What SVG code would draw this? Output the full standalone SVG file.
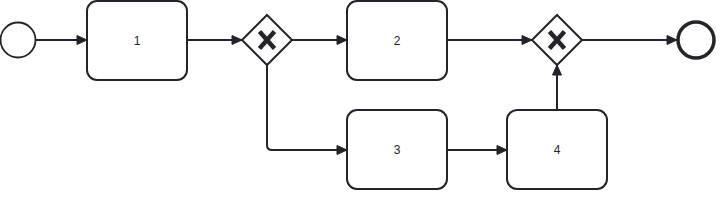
<svg xmlns="http://www.w3.org/2000/svg" width="726" height="200" viewBox="0 0 726 200">
<style>
.task{fill:#fff;stroke:#22242a;stroke-width:2}
.gw{fill:#fff;stroke:#22242a;stroke-width:2}
.x{stroke:#22242a;stroke-width:4.5;fill:none}
.lbl{font-family:"Liberation Sans",Arial,sans-serif;font-size:12px;fill:#22242a;text-anchor:middle;dominant-baseline:central}
.flow{fill:none;stroke:#22242a;stroke-width:2;stroke-linejoin:round}
</style>
<defs>
<marker id="arr" markerWidth="11" markerHeight="11" refX="11" refY="5.5" orient="auto" markerUnits="userSpaceOnUse">
<path d="M1,1 L11,5.5 L1,10 Z" fill="#22242a" stroke="#22242a" stroke-width="1"/>
</marker>
</defs>
<g id="connectors">
<path class="flow" d="M36,40 L87,40" marker-end="url(#arr)"/>
<path class="flow" d="M187,40 L242,40" marker-end="url(#arr)"/>
<path class="flow" d="M292,40 L347,40" marker-end="url(#arr)"/>
<path class="flow" d="M267,65 L267,145 Q267,150 272,150 L347,150" marker-end="url(#arr)"/>
<path class="flow" d="M447,40 L532,40" marker-end="url(#arr)"/>
<path class="flow" d="M447,150 L507,150" marker-end="url(#arr)"/>
<path class="flow" d="M557,110 L557,65" marker-end="url(#arr)"/>
<path class="flow" d="M582,40 L677,40" marker-end="url(#arr)"/>
</g>
<g id="start"><circle cx="18" cy="40" r="17.5" fill="#fff" stroke="#22242a" stroke-width="1.8"/></g>
<g id="task1"><rect class="task" x="87" y="1" width="100" height="79" rx="10"/><text class="lbl" x="137" y="40.5">1</text></g>
<g id="gw1"><path class="gw" d="M267,15 L292,40 L267,65 L242,40 Z"/><path class="x" d="M259.5,31.5 L274.5,48.5 M274.5,31.5 L259.5,48.5"/></g>
<g id="task2"><rect class="task" x="347" y="1" width="100" height="79" rx="10"/><text class="lbl" x="397" y="40.5">2</text></g>
<g id="task3"><rect class="task" x="347" y="110" width="100" height="79" rx="10"/><text class="lbl" x="397" y="150">3</text></g>
<g id="task4"><rect class="task" x="507" y="110" width="100" height="79" rx="10"/><text class="lbl" x="557" y="150">4</text></g>
<g id="gw2"><path class="gw" d="M557,15 L582,40 L557,65 L532,40 Z"/><path class="x" d="M549.5,31.5 L564.5,48.5 M564.5,31.5 L549.5,48.5"/></g>
<g id="end"><circle cx="696" cy="40" r="18" fill="#fff" stroke="#22242a" stroke-width="3.5"/></g>
</svg>
